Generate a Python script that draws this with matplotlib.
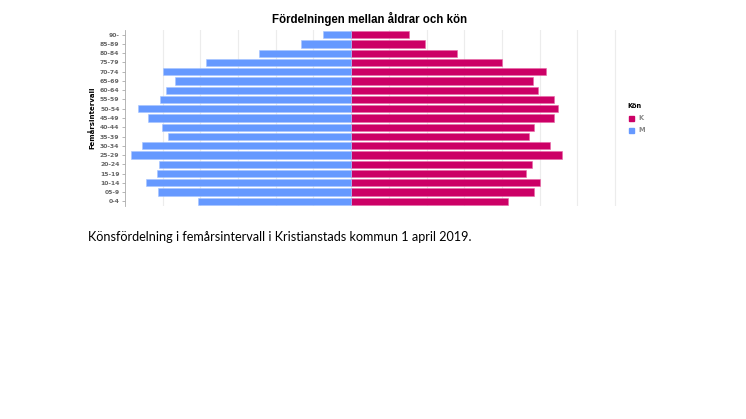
import matplotlib
matplotlib.use("Agg")
import matplotlib.pyplot as plt
import numpy as np

age_groups = ["90-", "85-89", "80-84", "75-79", "70-74", "65-69", "60-64", "55-59",
              "50-54", "45-49", "40-44", "35-39", "30-34", "25-29", "20-24", "15-19",
              "10-14", "05-9", "0-4"]
women = [765, 985, 1405, 2000, 2580, 2410, 2475, 2695, 2745, 2695, 2420, 2365,
         2640, 2790, 2395, 2325, 2505, 2425, 2080]
men = [375, 665, 1225, 1925, 2500, 2340, 2460, 2535, 2825, 2690, 2510, 2425,
       2770, 2925, 2550, 2575, 2715, 2560, 2035]

c_k = "#CC0066"
c_m = "#6699FF"

fig = plt.figure(figsize=(7.46, 4.19), dpi=100)
ax = fig.add_axes([125/746, 1-206/419, (617-125)/746, (206-30)/419])

y = np.arange(len(age_groups))
ax.barh(y, women, height=0.78, color=c_k, edgecolor="#e866a6", linewidth=0.4, zorder=3, label="K")
ax.barh(y, [-v for v in men], height=0.78, color=c_m, edgecolor="#a6c4ff", linewidth=0.4, zorder=3, label="M")

ax.set_xlim(-3000, 3526)
ax.set_ylim(len(age_groups) - 0.5, -0.5)
ax.set_xticks(np.arange(-2500, 3501, 500))
ax.xaxis.grid(True, color="#ececec", linewidth=0.8, zorder=0)
ax.tick_params(axis="x", length=0, labelbottom=False)
ax.set_yticks(y)
ax.set_yticklabels(age_groups, fontsize=4.4, color="#666666", fontweight="bold")
ax.tick_params(axis="y", length=2, width=0.5, color="#999999", pad=2)
for s in ["top", "right", "bottom"]:
    ax.spines[s].set_visible(False)
ax.spines["left"].set_color("#aaaaaa")
ax.spines["left"].set_linewidth(0.6)
ax.set_ylabel("Femårsintervall", fontsize=5, fontweight="bold", labelpad=3)

fig.text(370/746, 1-19/419, "Fördelningen mellan åldrar och kön", ha="center", va="center",
         fontsize=8.3, fontweight="bold", family="Liberation Sans")

# legend
fig.text(627/746, 1-106/419, "Kön", fontsize=4.8, fontweight="bold", va="center", ha="left")
leg_items = [("K", c_k, 118), ("M", c_m, 130)]
for lab, col, yy in leg_items:
    fig.patches.append(plt.Rectangle((629/746, 1-(yy+3)/419), 5/746, 5/419,
                                     transform=fig.transFigure, color=col))
    fig.text(638/746, 1-yy/419, lab, fontsize=4.8, fontweight="bold", color="#888888",
             va="center", ha="left")

fig.text(88/746, 1-237/419, "Könsfördelning i femårsintervall i Kristianstads kommun 1 april 2019.",
         fontsize=9.1, family="Lato", va="center", ha="left")

fig.savefig("out.png", dpi=100)
